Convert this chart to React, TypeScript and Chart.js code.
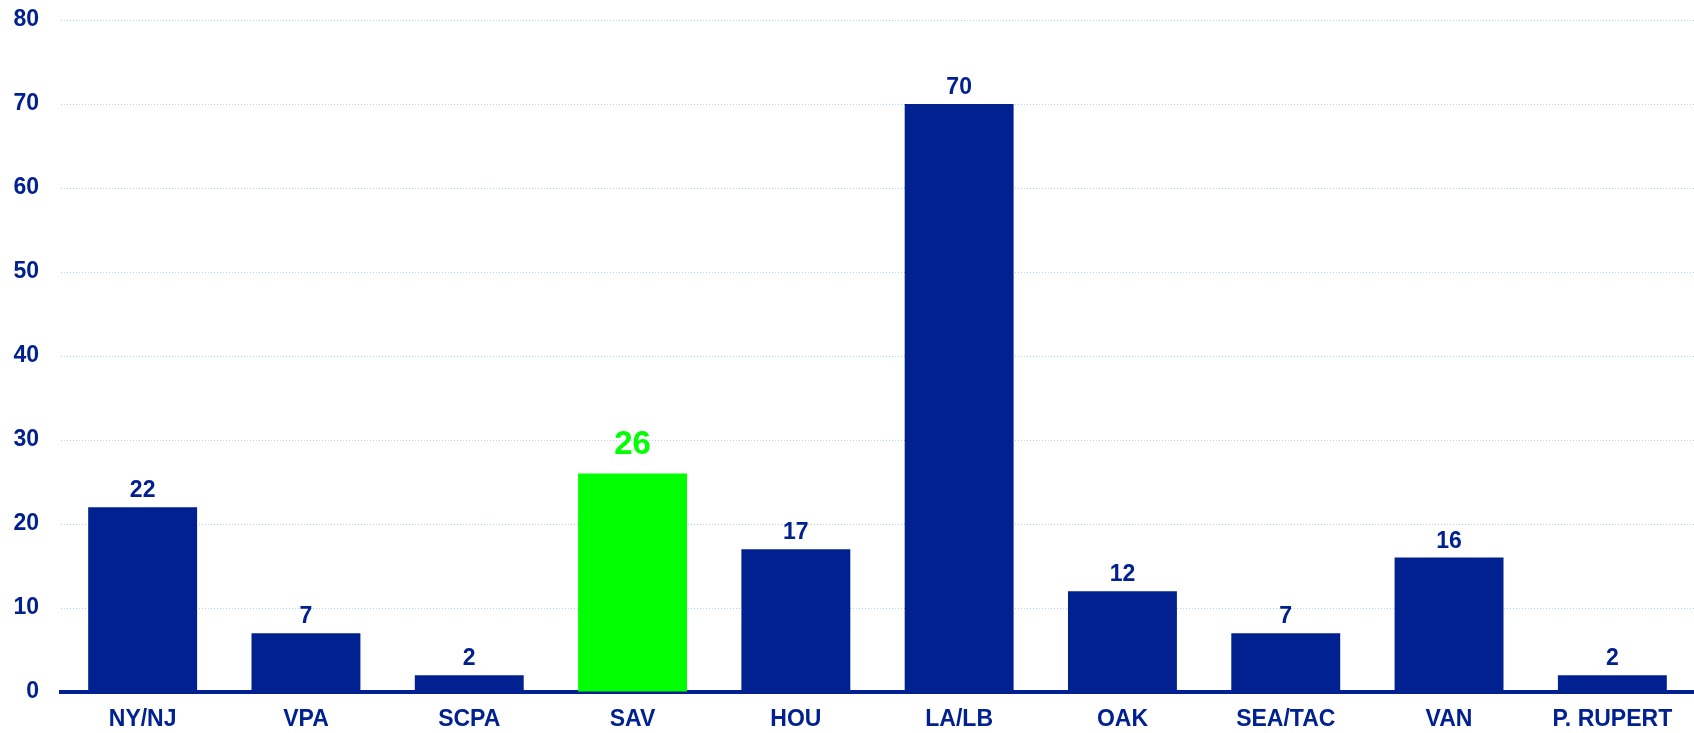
import React, { useEffect, useRef } from "react";
import { Chart, registerables } from "chart.js";

Chart.register(...registerables);

const categories = ["NY/NJ", "VPA", "SCPA", "SAV", "HOU", "LA/LB", "OAK", "SEA/TAC", "VAN", "P. RUPERT"];
const values = [22, 7, 2, 26, 17, 70, 12, 7, 16, 2];
const highlightIndex = 3;

const NAVY = "#00218F";
const GREEN = "#00FF00";
const FONT = "'Liberation Sans', Arial, sans-serif";

const labelPlugin = {
  id: "barLabels",
  afterDatasetsDraw(chart: any) {
    const ctx = chart.ctx;
    const meta = chart.getDatasetMeta(0);
    ctx.save();
    ctx.textAlign = "center";
    ctx.textBaseline = "alphabetic";
    meta.data.forEach((bar: any, i: number) => {
      const hl = i === highlightIndex;
      ctx.fillStyle = hl ? GREEN : NAVY;
      ctx.font = `bold ${hl ? 33 : 23}px ${FONT}`;
      ctx.fillText(String(values[i]), bar.x, bar.y - (hl ? 20 : 10));
    });
    ctx.restore();
  },
};

export default function App() {
  const ref = useRef<HTMLCanvasElement>(null);
  useEffect(() => {
    document.body.style.margin = "0";
    const chart = new Chart(ref.current!, {
      type: "bar",
      data: {
        labels: categories,
        datasets: [
          {
            data: values,
            backgroundColor: values.map((_, i) => (i === highlightIndex ? GREEN : NAVY)),
            borderWidth: 0,
            categoryPercentage: 1,
            barPercentage: 0.667,
          },
        ],
      },
      options: {
        animation: false,
        responsive: false,
        maintainAspectRatio: false,
        layout: { padding: { top: 20, left: 0, right: 0, bottom: 0 } },
        plugins: { legend: { display: false }, tooltip: { enabled: false } },
        scales: {
          x: {
            grid: { display: false, drawTicks: false },
            border: { display: true, color: NAVY, width: 4 },
            ticks: {
              color: NAVY,
              font: { family: FONT, size: 23, weight: "bold" },
              padding: 14,
              maxRotation: 0,
              autoSkip: false,
            },
            afterFit(scale: any) {
              scale.height = 41;
              scale.paddingLeft = 0;
              scale.paddingRight = 0;
            },
          },
          y: {
            min: 0,
            max: 80,
            ticks: {
              stepSize: 10,
              color: NAVY,
              font: { family: FONT, size: 23, weight: "bold" },
              padding: 22,
            },
            grid: {
              color: "#A9D3FF",
              lineWidth: 1,
              drawTicks: false,
            },
            border: { display: false, dash: [1, 2] },
            afterFit(scale: any) {
              scale.width = 61;
              scale.paddingTop = 0;
              scale.paddingBottom = 0;
            },
          },
        },
      },
      plugins: [labelPlugin],
    });
    return () => chart.destroy();
  }, []);
  return (
    <div style={{ position: "absolute", left: 0, top: 0, width: 1694, height: 733 }}>
      <canvas ref={ref} width={1694} height={733} style={{ width: 1694, height: 733 }} />
    </div>
  );
}
